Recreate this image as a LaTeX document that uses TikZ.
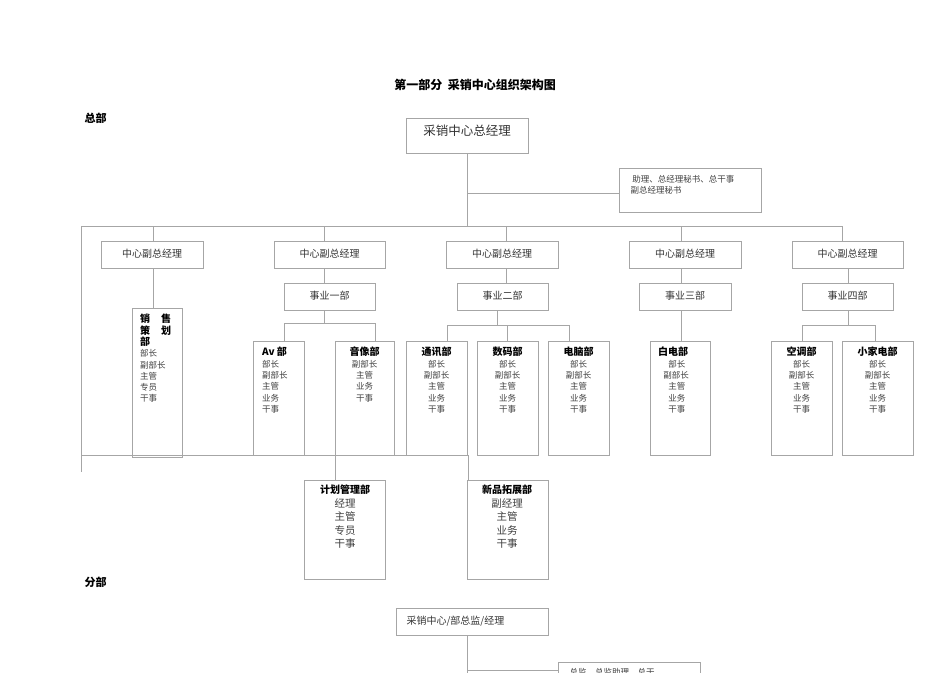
\documentclass[tikz,border=0pt]{standalone}
\usepackage{fontspec}
\setmainfont{Noto Sans CJK SC}
\newcommand{\hdt}[1]{\textcolor{black}{\fontsize{10}{12.5}\selectfont\bfseries #1}}
\begin{document}
\begin{tikzpicture}[x=1pt,y=-1pt,
  ln/.style={draw=black!35,line width=0.7pt},
  hd/.style={font=\fontsize{11}{13}\selectfont\bfseries,text=black},
  sm/.style={font=\fontsize{8.5}{10.5}\selectfont,text=black!75},
  dp/.style={font=\fontsize{8.5}{11.3}\selectfont,text=black!75,inner sep=0pt}]
\useasboundingbox (0,0) rectangle (950,672);
\clip (0,0) rectangle (950,672);
\node[font=\fontsize{12}{14}\selectfont\bfseries] (title) at (475,85) {第一部分\ \ 采销中心组织架构图};
\node[hd,anchor=west] (zb) at (81,118) {总部};
\node[hd,anchor=west] (fb) at (81,582) {分部};
\draw[ln] (406,118) rectangle (528,153);
\node[font=\fontsize{12.5}{14}\selectfont,text=black!80] (top) at (467,131) {采销中心总经理};
\draw[ln] (619,168) rectangle (761,212);
\node[sm,anchor=north west,align=left] (asst) at (627,172) {\ 助理、总经理秘书、总干事\\副总经理秘书};
\foreach \a/\b/\n in {101/203/v1,274/385/v2,446/558/v3,629/741/v4,792/903/v5}{
  \draw[ln] (\a,241) rectangle (\b,268);
  \node[font=\fontsize{10}{12}\selectfont,text=black!80] (\n) at ({(\a+\b)/2},254) {中心副总经理};
}
\foreach \a/\b/\t in {284/375/事业一部,457/548/事业二部,639/731/事业三部,802/893/事业四部}{
  \draw[ln] (\a,283) rectangle (\b,310);
  \node[font=\fontsize{10}{12}\selectfont,text=black!80] at ({(\a+\b)/2},296) {\t};
}
\draw[ln] (467,153) -- (467,226);
\draw[ln] (467,193) -- (619,193);
\draw[ln] (81,226) -- (842,226);
\foreach \x in {153,324,506,681,842} \draw[ln] (\x,226) -- (\x,241);
\draw[ln] (153,268) -- (153,308);
\foreach \x in {324,506,681,848} \draw[ln] (\x,268) -- (\x,283);
\draw[ln] (81,226) -- (81,472);
\draw[ln] (132,308) rectangle (182,457);
\node[dp,anchor=north west,align=left] (xs) at (140,314) {\hdt{销\hspace{1.1em}售}\\\hdt{策\hspace{1.1em}划}\\\hdt{部}\\部长\\副部长\\主管\\专员\\干事};
\draw[ln] (324,310) -- (324,323); \draw[ln] (284,323) -- (375,323);
\draw[ln] (284,323) -- (284,341); \draw[ln] (375,323) -- (375,341);
\draw[ln] (497,310) -- (497,325); \draw[ln] (447,325) -- (569,325);
\foreach \x in {447,507,569} \draw[ln] (\x,325) -- (\x,341);
\draw[ln] (681,310) -- (681,341);
\draw[ln] (848,310) -- (848,325); \draw[ln] (802,325) -- (875,325);
\draw[ln] (802,325) -- (802,341); \draw[ln] (875,325) -- (875,341);
\foreach \a/\b/\h/\s in {
 335/394/音像部/{副部长\\主管\\业务\\干事},
 406/467/通讯部/{部长\\副部长\\主管\\业务\\干事},
 477/538/数码部/{部长\\副部长\\主管\\业务\\干事},
 548/609/电脑部/{部长\\副部长\\主管\\业务\\干事},
 771/832/空调部/{部长\\副部长\\主管\\业务\\干事},
 842/913/小家电部/{部长\\副部长\\主管\\业务\\干事}}{
  \draw[ln] (\a,341) rectangle (\b,455);
  \node[dp,anchor=north,align=center] at ({(\a+\b)/2},347) {\hdt{\h}\\\s};
}
\draw[ln] (253,341) rectangle (304,455);
\node[dp,anchor=north west,align=left] (av) at (262,347) {\hdt{Av 部}\\部长\\副部长\\主管\\业务\\干事};
\draw[ln] (650,341) rectangle (710,455);
\node[dp,anchor=north west,align=left] (bd) at (658,347) {\hdt{白电部}\\\hspace{1.2em}部长\\\hspace{0.6em}副部长\\\hspace{1.2em}主管\\\hspace{1.2em}业务\\\hspace{1.2em}干事};
\draw[ln] (81,455) -- (468,455);
\draw[ln] (335,455) -- (335,480); \draw[ln] (468,455) -- (468,480);
\draw[ln] (304,480) rectangle (385,579);
\node[anchor=north,align=center,inner sep=0pt,font=\fontsize{10.5}{13.5}\selectfont,text=black!75] (jh) at (345,485) {\hdt{计划管理部}\\经理\\主管\\专员\\干事};
\draw[ln] (467,480) rectangle (548,579);
\node[anchor=north,align=center,inner sep=0pt,font=\fontsize{10.5}{13.5}\selectfont,text=black!75] (xp) at (507,485) {\hdt{新品拓展部}\\副经理\\主管\\业务\\干事};
\draw[ln] (396,608) rectangle (548,635);
\node[font=\fontsize{10}{12}\selectfont,text=black!80,anchor=west] (bm) at (403,621) {采销中心/部总监/经理};
\draw[ln] (467,635) -- (467,680);
\draw[ln] (467,670) -- (558,670);
\draw[ln] (558,662) rectangle (700,700);
\node[sm,anchor=north west] (ba) at (566,665) {总监、总监助理、总干};
\end{tikzpicture}
\end{document}
